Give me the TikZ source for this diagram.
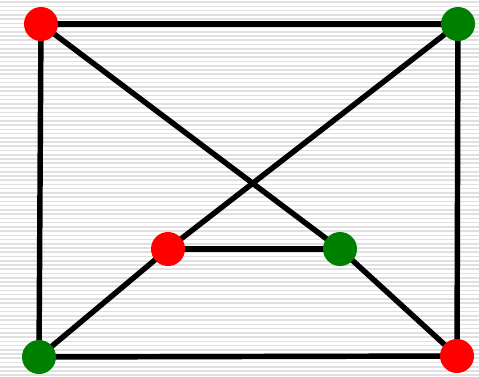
\documentclass[tikz,border=0pt]{standalone}
\usepackage{tikz}
\usetikzlibrary{backgrounds}
\definecolor{vred}{RGB}{255,0,0}
\definecolor{vgreen}{RGB}{0,128,0}
\definecolor{stripegray}{RGB}{224,224,224}
\tikzset{
  vertex/.style={circle,inner sep=0pt,minimum size=0.68cm},
  redv/.style={vertex,fill=vred},
  greenv/.style={vertex,fill=vgreen},
  link/.style={line width=3.1pt,black},
  stripe/.style={fill=stripegray}
}

\begin{document}
\begin{tikzpicture}[x=0.02cm,y=-0.02cm]
  \useasboundingbox (0,0) rectangle (479,376);

  \node[redv] (TL) at (41,24) {};
  \node[greenv] (TR) at (458,24) {};
  \node[redv] (MR) at (168,249) {};
  \node[greenv] (MG) at (340,249) {};
  \node[greenv] (BL) at (39,357) {};
  \node[redv] (BR) at (457,356) {};

  \begin{scope}[on background layer]
    \fill[white] (0,0) rectangle (479,376);
    \foreach \y in {1.3,5.54,...,376}
      \fill[stripe] (0,\y) rectangle (479,\y+1.6);
    \draw[link] (TL.center) -- (TR.center);
    \draw[link] (TL.center) -- (BL.center);
    \draw[link] (TR.center) -- (BR.center);
    \draw[link] (BL.center) -- (BR.center);
    \draw[link] (TL.center) -- (MG.center);
    \draw[link] (MG.center) -- (BR.center);
    \draw[link] (TR.center) -- (MR.center);
    \draw[link] (MR.center) -- (BL.center);
    \draw[link] (MR.center) -- (MG.center);
  \end{scope}
\end{tikzpicture}
\end{document}
